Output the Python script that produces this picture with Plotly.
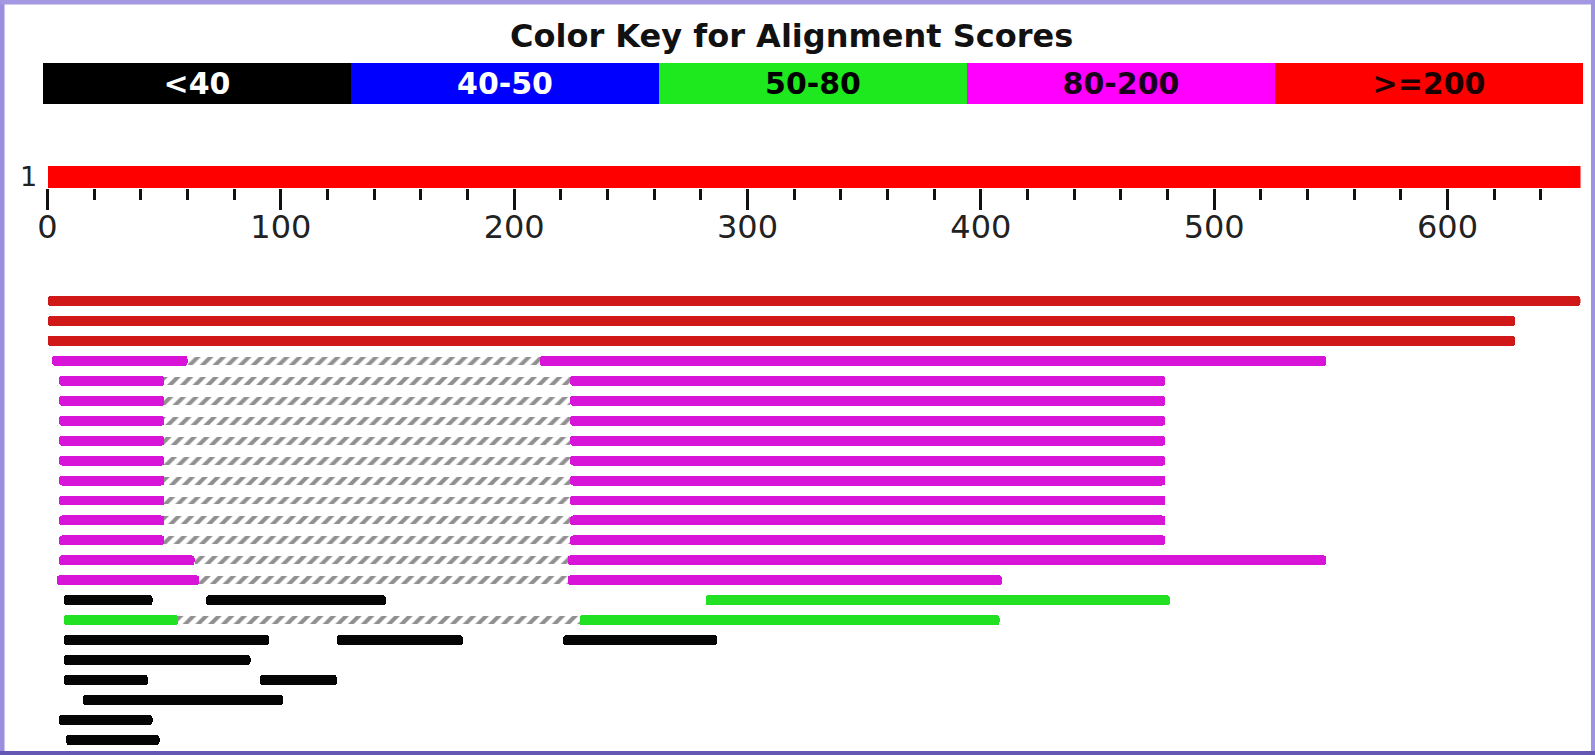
import plotly.graph_objects as go

# ---------------- data ----------------
QUERY_LEN = 657
query_label = "1"
tick_values = [0, 100, 200, 300, 400, 500, 600]
tick_labels = ["0", "100", "200", "300", "400", "500", "600"]
minor_tick_values = list(range(0, QUERY_LEN, 20))

key_labels = ["<40", "40-50", "50-80", "80-200", ">=200"]
key_colors = ["#000000", "#0000ff", "#1ee81e", "#ff00ff", "#ff0000"]
key_text_colors = ["#ffffff", "#ffffff", "#000000", "#1a001a", "#1a0000"]

# alignment segments: row, start, end, score class ("gap" = unaligned span)
seg_row = [1, 2, 3,
           4, 4, 4,
           5, 5, 5, 6, 6, 6, 7, 7, 7, 8, 8, 8, 9, 9, 9,
           10, 10, 10, 11, 11, 11, 12, 12, 12, 13, 13, 13,
           14, 14, 14, 15, 15, 15,
           16, 16, 16, 17, 17, 17,
           18, 18, 18, 19, 20, 20, 21, 22, 23]
seg_start = [0, 0, 0,
             2, 60, 211,
             5, 50, 224, 5, 50, 224, 5, 50, 224, 5, 50, 224, 5, 50, 224,
             5, 50, 224, 5, 50, 224, 5, 50, 224, 5, 50, 224,
             5, 63, 223, 4, 65, 223,
             7, 68, 282, 7, 56, 228,
             7, 124, 221, 7, 7, 91, 15, 5, 8]
seg_end = [657, 629, 629,
           60, 211, 548,
           50, 224, 479, 50, 224, 479, 50, 224, 479, 50, 224, 479, 50, 224, 479,
           50, 224, 479, 50, 224, 479, 50, 224, 479, 50, 224, 479,
           63, 223, 548, 65, 223, 409,
           45, 145, 481, 56, 228, 408,
           95, 178, 287, 87, 43, 124, 101, 45, 48]
seg_class = [">=200", ">=200", ">=200",
             "80-200", "gap", "80-200",
             "80-200", "gap", "80-200", "80-200", "gap", "80-200", "80-200", "gap", "80-200",
             "80-200", "gap", "80-200", "80-200", "gap", "80-200",
             "80-200", "gap", "80-200", "80-200", "gap", "80-200", "80-200", "gap", "80-200",
             "80-200", "gap", "80-200",
             "80-200", "gap", "80-200", "80-200", "gap", "80-200",
             "<40", "<40", "50-80", "50-80", "gap", "50-80",
             "<40", "<40", "<40", "<40", "<40", "<40", "<40", "<40", "<40"]

class_colors = {"<40": "#050505", "40-50": "#1010e0", "50-80": "#22e022",
                "80-200": "#d814d8", ">=200": "#d01818"}

# ---------------- figure ----------------
W, H = 1595, 755
fig = go.Figure()

def px_x(p):
    return p / W

def px_y(p):
    return 1 - p / H

# Title
fig.add_annotation(text="<b>Color Key for Alignment Scores</b>", xref="paper", yref="paper",
                   x=px_x(791), y=px_y(36), xanchor="center", yanchor="middle",
                   showarrow=False, font=dict(family="DejaVu Sans", size=32, color="#111111"))

# Color key bar
fig.add_trace(go.Bar(orientation="h", y=[0] * len(key_labels), x=[1] * len(key_labels),
                     base=list(range(len(key_labels))), width=1,
                     marker=dict(color=key_colors, line=dict(width=0)),
                     text=key_labels, textposition="inside", insidetextanchor="middle",
                     textangle=0, constraintext="none",
                     textfont=dict(family="DejaVu Sans", size=30, color=key_text_colors, weight="bold"),
                     xaxis="x2", yaxis="y2", hoverinfo="skip", showlegend=False))

# Query bar
fig.add_trace(go.Bar(orientation="h", y=[0], x=[QUERY_LEN], base=[0], width=1,
                     marker=dict(color="#ff0000", line=dict(width=0)),
                     xaxis="x", yaxis="y", hoverinfo="skip", showlegend=False))

fig.add_annotation(text=query_label, xref="paper", yref="paper", x=px_x(28), y=px_y(177),
                   xanchor="center", yanchor="middle", showarrow=False,
                   font=dict(family="DejaVu Sans", size=27, color="#222222"))

# Alignment segments
for cls in [">=200", "80-200", "50-80", "40-50", "<40"]:
    idx = [i for i, c in enumerate(seg_class) if c == cls]
    if not idx:
        continue
    fig.add_trace(go.Bar(orientation="h",
                         y=[seg_row[i] for i in idx],
                         x=[seg_end[i] - seg_start[i] for i in idx],
                         base=[seg_start[i] for i in idx],
                         width=0.5,
                         marker=dict(color=class_colors[cls], line=dict(width=0), cornerradius=3),
                         xaxis="x3", yaxis="y3", hoverinfo="skip", showlegend=False))

gap_idx = [i for i, c in enumerate(seg_class) if c == "gap"]
fig.add_trace(go.Bar(orientation="h",
                     y=[seg_row[i] for i in gap_idx],
                     x=[seg_end[i] - seg_start[i] for i in gap_idx],
                     base=[seg_start[i] for i in gap_idx],
                     width=0.4,
                     marker=dict(color="white", line=dict(width=0),
                                 pattern=dict(shape="/", fgcolor="#222222", bgcolor="white",
                                              size=9, solidity=0.45, fillmode="overlay")),
                     xaxis="x3", yaxis="y3", hoverinfo="skip", showlegend=False))

xdom = [px_x(47.5), px_x(1580.5)]
fig.update_layout(
    width=W, height=H, autosize=False,
    margin=dict(l=0, r=0, t=0, b=0, pad=0, autoexpand=False),
    paper_bgcolor="white", plot_bgcolor="rgba(0,0,0,0)",
    barmode="overlay", bargap=0,
    xaxis=dict(domain=xdom, range=[0, QUERY_LEN], anchor="y", showgrid=False, zeroline=False,
               showline=False, automargin=False, tickmode="array", tickvals=tick_values,
               ticktext=tick_labels,
               ticks="outside", ticklen=21, tickwidth=3, tickcolor="#111111",
               ticklabelstandoff=-10,
               tickfont=dict(family="DejaVu Sans", size=32, color="#222222"),
               minor=dict(tickmode="array", tickvals=minor_tick_values, ticks="outside",
                          ticklen=11, tickwidth=3, tickcolor="#111111", showgrid=False),
               fixedrange=True),
    yaxis=dict(domain=[px_y(188), px_y(166)], range=[-0.5, 0.5], anchor="x", visible=False,
               automargin=False, fixedrange=True),
    xaxis2=dict(domain=[px_x(43), px_x(1583)], range=[0, len(key_labels)], anchor="y2",
                visible=False, automargin=False, fixedrange=True),
    yaxis2=dict(domain=[px_y(104), px_y(63)], range=[-0.5, 0.5], anchor="x2", visible=False,
                automargin=False, fixedrange=True),
    xaxis3=dict(domain=xdom, matches="x", anchor="y3", visible=False, automargin=False,
                fixedrange=True),
    yaxis3=dict(domain=[px_y(749.9), px_y(291.0)], range=[23.5, 0.5], anchor="x3",
                visible=False, automargin=False, fixedrange=True),
    shapes=[
        dict(type="line", xref="paper", yref="paper", x0=0, x1=0, y0=0, y1=1,
             line=dict(color="#9a8ee0", width=9)),
        dict(type="line", xref="paper", yref="paper", x0=0, x1=1, y0=1, y1=1,
             line=dict(color="#a498e2", width=9)),
        dict(type="line", xref="paper", yref="paper", x0=1, x1=1, y0=0, y1=1,
             line=dict(color="#9e92e2", width=8)),
        dict(type="line", xref="paper", yref="paper", x0=0, x1=1, y0=0, y1=0,
             line=dict(color="#6458b4", width=8)),
    ],
)

fig.write_html("out.html", config={"displayModeBar": False, "staticPlot": True},
               post_script="document.body.style.margin='0';document.body.style.overflow='hidden';")
